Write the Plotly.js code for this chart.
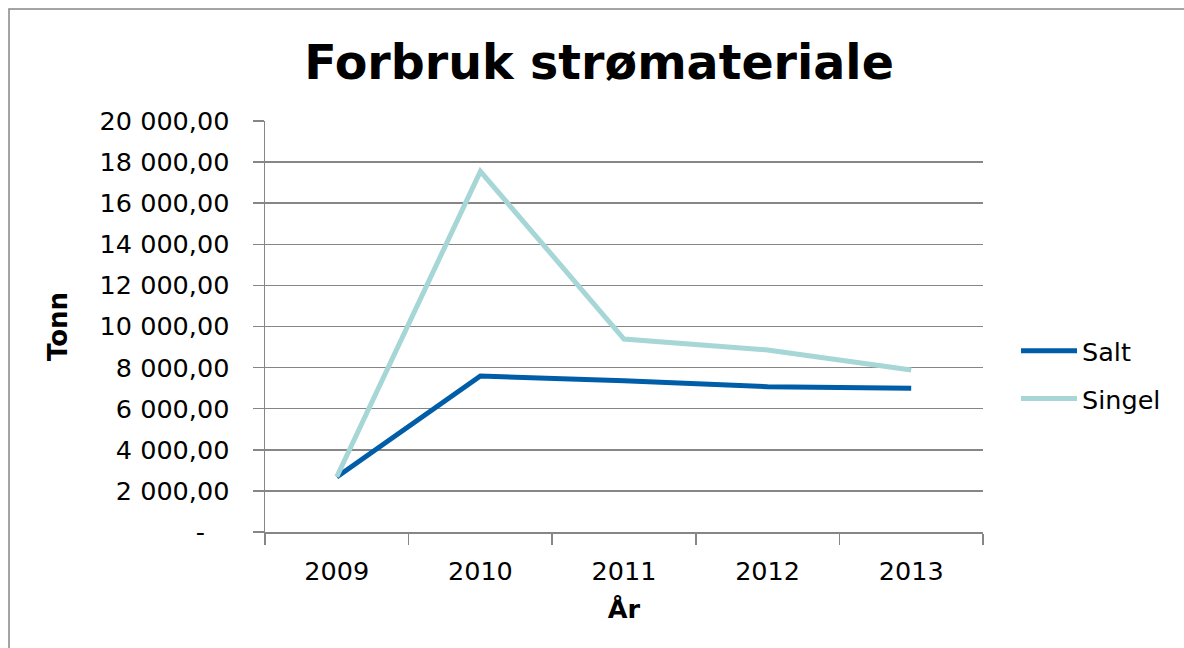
<!DOCTYPE html>
<html>
<head>
<meta charset="utf-8">
<script src="https://cdn.plot.ly/plotly-3.0.1.min.js"></script>
<style>html,body{margin:0;padding:0;background:#fff;}#chart{width:1184px;height:648px;}</style>
</head>
<body>
<div id="chart"></div>
<script>
const years = ["2009", "2010", "2011", "2012", "2013"];
const salt = [2680, 7590, 7360, 7070, 6990];
const singel = [2690, 17550, 9390, 8860, 7880];
const yTickVals = [0, 2000, 4000, 6000, 8000, 10000, 12000, 14000, 16000, 18000, 20000];
const yTickText = ["-\u00a0\u00a0\u00a0", "2 000,00", "4 000,00", "6 000,00", "8 000,00", "10 000,00", "12 000,00", "14 000,00", "16 000,00", "18 000,00", "20 000,00"];

const font = "DejaVu Sans, Verdana, sans-serif";
const fs = 25.5;
const traces = [
  {x: years, y: salt, name: "Salt", type: "scatter", mode: "lines", legend: "legend",
   line: {color: "#005DA8", width: 5}},
  {x: years, y: singel, name: "Singel", type: "scatter", mode: "lines", legend: "legend2",
   line: {color: "#A6D6D6", width: 5}}
];
const legendBase = {xanchor: "left", yanchor: "middle", font: {family: font, size: fs, color: "#000"},
                    itemwidth: 56, bgcolor: "rgba(0,0,0,0)", borderwidth: 0};
const layout = {
  width: 1184, height: 648,
  paper_bgcolor: "#ffffff", plot_bgcolor: "#ffffff",
  margin: {l: 265, r: 201, t: 121, b: 116},
  title: {text: "<b>Forbruk strømateriale</b>", font: {family: font, size: 47.5, color: "#000"},
          x: 599/1184, xanchor: "center", y: 1 - 62/648, yanchor: "middle"},
  showlegend: true,
  legend: Object.assign({x: 1.046, y: 0.440}, legendBase),
  legend2: Object.assign({x: 1.046, y: 0.3236}, legendBase),
  xaxis: {type: "category", range: [-0.5, 4.5], tickson: "boundaries",
          ticks: "outside", ticklen: 11, tickcolor: "#868686", tickwidth: 1.5,
          showline: true, linecolor: "#868686", linewidth: 1.5, showgrid: false,
          tickfont: {family: font, size: fs, color: "#000"},
          ticklabelstandoff: 16,
          title: {text: "<b>År</b>", font: {family: font, size: fs, color: "#000"}, standoff: 15},
          fixedrange: true, zeroline: false},
  yaxis: {range: [0, 20000], tickmode: "array", tickvals: yTickVals, ticktext: yTickText,
          ticks: "outside", ticklen: 11, tickcolor: "#868686", tickwidth: 1.5,
          showline: true, linecolor: "#868686", linewidth: 1.5,
          showgrid: true, gridcolor: "#868686", gridwidth: 1.5, zeroline: false,
          tickfont: {family: font, size: fs, color: "#000"},
          ticklabelstandoff: 18,
          title: {text: "<b>Tonn</b>", font: {family: font, size: 26, color: "#000"}, standoff: 24},
          fixedrange: true},
  shapes: [{type: "rect", xref: "paper", yref: "paper",
            x0: -256/718, x1: 1.0 + 230/718, y0: -150/411, y1: 1 + 112/411,
            line: {color: "#868686", width: 1.5}, fillcolor: "rgba(0,0,0,0)", layer: "below"}]
};
Plotly.newPlot("chart", traces, layout, {displayModeBar: false, staticPlot: true});
</script>
</body>
</html>
